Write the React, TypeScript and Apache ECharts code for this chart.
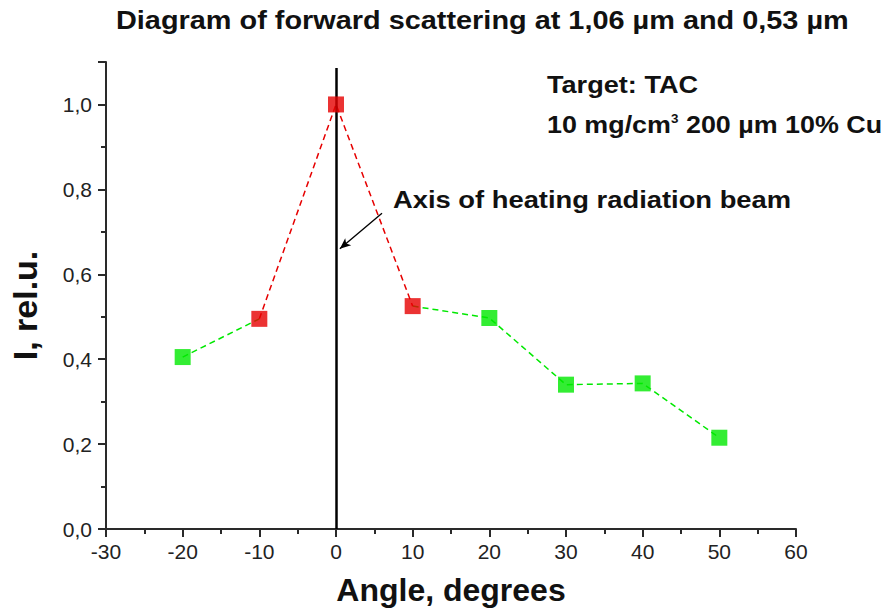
import React, { useEffect, useRef } from "react";
import * as echarts from "echarts";

const redAngles = [-10, 0, 10];
const redValues = [0.495, 1.0, 0.525];
const greenLeftAngles = [-20, -10];
const greenLeftValues = [0.405, 0.495];
const greenRightAngles = [10, 20, 30, 40, 50];
const greenRightValues = [0.525, 0.497, 0.34, 0.343, 0.215];
const greenMarkerAngles = [-20, 20, 30, 40, 50];
const greenMarkerValues = [0.405, 0.497, 0.34, 0.343, 0.215];

const titleText = "Diagram of forward scattering at 1,06 \u00b5m and 0,53 \u00b5m";
const xName = "Angle, degrees";
const yName = "I, rel.u.";
const annotationText = "Axis of heating radiation beam";
const targetLine1 = "Target: TAC";
const beamTop = 1.086;
const arrowFrom = [6.0, 0.744];
const arrowTo = [0.5, 0.66];

const fmt = (v: number) => v.toFixed(1).replace(".", ",");

export default function App() {
  const ref = useRef<HTMLDivElement>(null);
  useEffect(() => {
    document.body.style.margin = "0";
    document.body.style.overflow = "hidden";
    const chart = echarts.init(ref.current!, undefined, { renderer: "svg" });
    const font = "Liberation Sans, Arial, sans-serif";
    const green = "#00e800";
    const red = "#e60000";
    const axisColor = "#2a2a2a";
    chart.setOption({
      animation: false,
      backgroundColor: "#ffffff",
      textStyle: { fontFamily: font },
      grid: { left: 106, right: 93, top: 62, bottom: 82, containLabel: false },
      xAxis: {
        type: "value",
        min: -30,
        max: 60,
        interval: 10,
        name: xName,
        nameLocation: "middle",
        nameGap: 45,
        nameTextStyle: { fontSize: 32, fontWeight: "bold", color: "#111", fontFamily: font },
        axisLine: { onZero: false, lineStyle: { color: axisColor, width: 2 } },
        axisTick: { inside: false, length: 8, lineStyle: { color: axisColor, width: 2 } },
        minorTick: { show: true, splitNumber: 2, length: 5, lineStyle: { color: axisColor, width: 2 } },
        axisLabel: { fontSize: 21, color: "#222", margin: 12, fontFamily: font },
        splitLine: { show: false },
      },
      yAxis: {
        type: "value",
        min: 0,
        max: 1.1,
        interval: 0.2,
        name: yName,
        nameLocation: "middle",
        nameGap: 64,
        nameRotate: 90,
        nameTextStyle: { fontSize: 34, fontWeight: "bold", color: "#111", fontFamily: font, padding: [0, 20, 0, 0] },
        axisLine: { show: true, onZero: false, lineStyle: { color: axisColor, width: 2 } },
        axisTick: { show: true, inside: false, length: 8, lineStyle: { color: axisColor, width: 2 } },
        minorTick: { show: true, splitNumber: 2, length: 5, lineStyle: { color: axisColor, width: 2 } },
        axisLabel: { fontSize: 21, color: "#222", margin: 14, formatter: fmt, showMaxLabel: false, fontFamily: font },
        splitLine: { show: false },
      },
      series: [
        {
          type: "line",
          data: greenLeftAngles.map((a, i) => [a, greenLeftValues[i]]),
          showSymbol: false,
          lineStyle: { color: green, width: 1.5, type: [6, 4] },
          z: 2,
        },
        {
          type: "line",
          data: greenRightAngles.map((a, i) => [a, greenRightValues[i]]),
          showSymbol: false,
          lineStyle: { color: green, width: 1.5, type: [6, 4] },
          z: 2,
        },
        {
          type: "line",
          data: redAngles.map((a, i) => [a, redValues[i]]),
          showSymbol: false,
          lineStyle: { color: red, width: 1.5, type: [6, 4] },
          z: 2,
          markLine: {
            silent: true,
            symbol: ["none", "none"],
            label: { show: false },
            lineStyle: { color: "#000", width: 2.5, type: "solid" },
            data: [[{ coord: [0, 0] }, { coord: [0, beamTop] }]],
          },
        },
        {
          type: "line",
          data: [arrowFrom, arrowTo],
          showSymbol: false,
          lineStyle: { width: 0, opacity: 0 },
          markLine: {
            silent: true,
            symbol: ["none", "arrow"],
            symbolSize: [7, 11],
            label: { show: false },
            lineStyle: { color: "#000", width: 1.3, type: "solid" },
            data: [[{ coord: arrowFrom }, { coord: arrowTo }]],
          },
        },
        {
          type: "scatter",
          data: greenMarkerAngles.map((a, i) => [a, greenMarkerValues[i]]),
          symbol: "rect",
          symbolSize: 16,
          itemStyle: { color: green },
          z: 5,
        },
        {
          type: "scatter",
          data: redAngles.map((a, i) => [a, redValues[i]]),
          symbol: "rect",
          symbolSize: 16,
          itemStyle: { color: red },
          z: 6,
        },
      ],
      graphic: [
        {
          type: "text",
          x: 116,
          y: 21,
          scaleX: 1.155,
          style: { text: titleText, font: `bold 25px ${font}`, fill: "#111", verticalAlign: "middle", align: "left" },
        },
        {
          type: "text",
          x: 393,
          y: 200,
          scaleX: 1.14,
          style: { text: annotationText, font: `bold 24px ${font}`, fill: "#111", verticalAlign: "middle", align: "left" },
        },
        {
          type: "text",
          x: 547,
          y: 85,
          scaleX: 1.13,
          style: { text: targetLine1, font: `bold 24px ${font}`, fill: "#111", verticalAlign: "middle", align: "left" },
        },
        {
          type: "text",
          x: 547,
          y: 125,
          scaleX: 1.12,
          style: {
            verticalAlign: "middle",
            align: "left",
            rich: {
              n: { font: `bold 24px ${font}`, fill: "#111" },
              s: { font: `bold 12px ${font}`, fill: "#111", verticalAlign: "top", padding: [0, 0, 12, 0] },
            },
            text: "{n|10 mg/cm}{s|3}{n| 200 \u00b5m 10% Cu}",
          },
        },
      ],
    });
    return () => chart.dispose();
  }, []);
  return <div ref={ref} style={{ width: 889, height: 611 }} />;
}
